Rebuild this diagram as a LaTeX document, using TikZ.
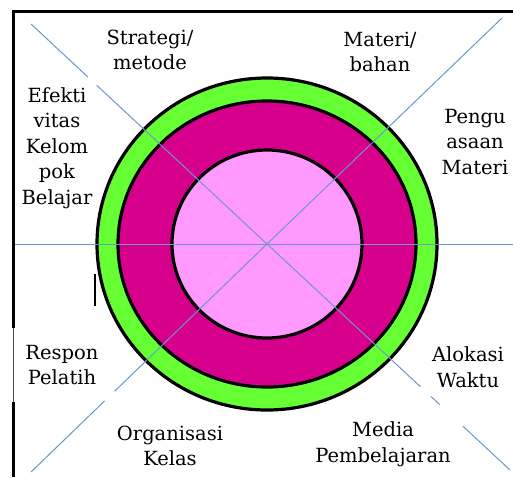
\documentclass[tikz,border=0pt]{standalone}
\usepackage{fontspec}
\setmainfont{DejaVu Serif}
\usetikzlibrary{calc}
\definecolor{ringgreen}{RGB}{102,255,51}
\definecolor{ringmag}{RGB}{214,0,140}
\definecolor{ringpink}{RGB}{255,153,255}
\definecolor{axisblue}{RGB}{110,150,205}
\tikzset{
  ring/.style={draw=black, line width=3.2pt},
  axis/.style={draw=axisblue, line width=1pt},
  frame/.style={draw=black, line width=3pt},
  label/.style={align=center, inner sep=0pt, font=\fontsize{19.5}{25.5}\selectfont},
}
\begin{document}
\begin{tikzpicture}[x=1pt,y=-1pt]
\useasboundingbox (0,0) rectangle (513,477);
\fill[white] (0,0) rectangle (513,477);
% frame
\coordinate (TL) at (13.5,11.5);
\coordinate (TR) at (513,11.5);
\coordinate (LA) at (13.5,328);
\coordinate (LB) at (13.5,402);
\coordinate (BL) at (13.5,477);
\draw[frame] (TR) -- (TL) -- (LA);
\draw[black!70, line width=1pt] (LA) -- (LB);
\draw[frame] (LB) -- (BL);
% rings
\coordinate (C) at (267,244);
\draw[ring, fill=ringgreen] (C) ellipse [x radius=170pt, y radius=166pt];
\draw[ring, fill=ringmag] (C) ellipse [x radius=149pt, y radius=143pt];
\draw[ring, fill=ringpink] (C) ellipse [x radius=95pt, y radius=94pt];
% small stroke
\coordinate (s1) at (95,274);
\coordinate (s2) at (95,306);
\draw[black, line width=1.5pt] (s1) -- (s2);
% axes
\coordinate (HL) at (15,244);
\coordinate (HR) at (513,244);
\draw[axis] (HL) -- (HR);
\coordinate (UL) at (31,24);
\coordinate (UR) at (502,18);
\coordinate (LL) at (31,472);
\coordinate (LR) at (510,470);
\draw[axis] (C) -- ($(C)!0.722!(UL)$);
\draw[axis] ($(C)!0.759!(UL)$) -- (UL);
\draw[axis] (C) -- (UR);
\draw[axis] (C) -- ($(C)!0.646!(LL)$);
\draw[axis] ($(C)!0.688!(LL)$) -- (LL);
\draw[axis] (C) -- ($(C)!0.632!(LR)$);
\draw[axis] ($(C)!0.674!(LR)$) -- ($(C)!0.711!(LR)$);
\draw[axis] ($(C)!0.806!(LR)$) -- (LR);
% labels
\node[label] (strat) at (150,50) {Strategi/\\metode};
\node[label] (mat) at (380,52) {Materi/\\bahan};
\node[label] (peng) at (475,142) {Pengu\\asaan\\Materi};
\node[label] (efek) at (57,148) {Efekti\\vitas\\Kelom\\pok\\Belajar};
\node[label] (resp) at (62,365) {Respon\\Pelatih};
\node[label] (org) at (170,446) {Organisasi\\Kelas};
\node[label] (alok) at (468,367) {Alokasi\\Waktu};
\node[label] (media) at (383,444) {Media\\Pembelajaran};
\end{tikzpicture}
\end{document}
